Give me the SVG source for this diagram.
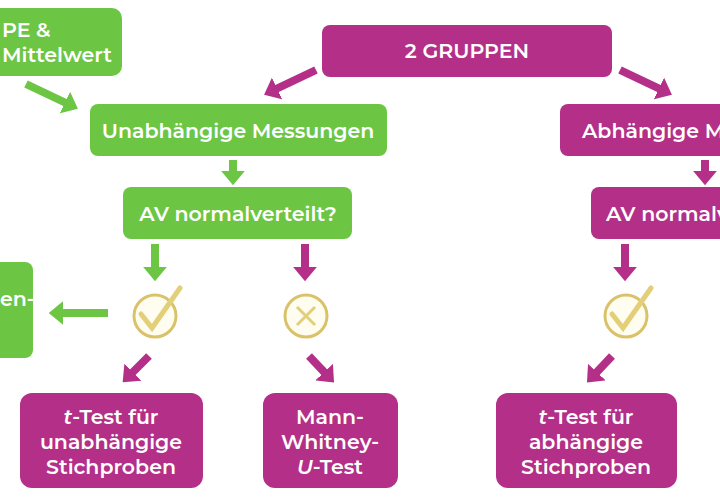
<svg xmlns="http://www.w3.org/2000/svg" width="720" height="500" viewBox="0 0 720 500">
<defs>
<style>
.g{fill:#6cc644}.m{fill:#b32f88}
text{font-family:"Montserrat","Open Sans","Liberation Sans",sans-serif;font-weight:600;font-size:20.5px;fill:#fff;text-anchor:middle}
.ag{stroke:#6cc644;stroke-width:8;fill:none}
.am{stroke:#b32f88;stroke-width:8;fill:none}
.ring{fill:#fffdf0;stroke:#d9c26a;stroke-width:3}
</style>
<marker id="hg" viewBox="0 0 6 10" refX="0.5" refY="5" markerWidth="1.8" markerHeight="3" orient="auto"><path d="M0,0L6,5L0,10z" fill="#6cc644"/></marker>
<marker id="hm" viewBox="0 0 6 10" refX="0.5" refY="5" markerWidth="1.8" markerHeight="3" orient="auto"><path d="M0,0L6,5L0,10z" fill="#b32f88"/></marker>
</defs>
<rect width="720" height="500" fill="#fff"/>
<g id="n-typ"><rect class="g" x="-12" y="8" width="134" height="68" rx="10"/><text x="2" y="37" style="text-anchor:start">PE &amp;</text><text x="2" y="62" style="text-anchor:start">Mittelwert</text></g>
<g id="n-2gruppen"><rect class="m" x="322" y="25" width="290" height="52" rx="8"/><text x="467" y="58">2 GRUPPEN</text></g>
<g id="n-unabh"><rect class="g" x="90" y="104" width="297" height="52" rx="8"/><text x="238" y="138">Unabhängige Messungen</text></g>
<g id="n-abh"><rect class="m" x="560" y="104" width="175" height="52" rx="8"/><text x="582" y="138" style="text-anchor:start">Abhängige M</text></g>
<g id="n-av1"><rect class="g" x="123" y="187" width="229" height="52" rx="8"/><text x="238" y="221">AV normalverteilt?</text></g>
<g id="n-av2"><rect class="m" x="591" y="187" width="140" height="52" rx="8"/><text x="606" y="221" style="text-anchor:start">AV normalv</text></g>
<g id="n-left"><rect class="g" x="-12" y="262" width="45" height="96" rx="8"/><text x="0" y="306" style="text-anchor:start">en-</text></g>
<g id="i-check1"><circle class="ring" cx="155" cy="316" r="21"/><path d="M141,314 L152,328 L180,288" stroke="#e3cf7a" stroke-width="5" fill="none" stroke-linecap="round"/></g>
<g id="i-x"><circle class="ring" cx="306" cy="316" r="21"/><path d="M297,307L315,325M315,307L297,325" stroke="#e3cf7a" stroke-width="3" fill="none"/></g>
<g id="i-check2"><circle class="ring" cx="626" cy="316" r="21"/><path d="M612,314 L623,328 L651,288" stroke="#e3cf7a" stroke-width="5" fill="none" stroke-linecap="round"/></g>
<g id="n-ttest1"><rect class="m" x="20" y="393" width="183" height="95" rx="12"/><text x="111" y="424"><tspan font-style="italic">t</tspan>-Test für</text><text x="111" y="449">unabhängige</text><text x="111" y="474">Stichproben</text></g>
<g id="n-mwu"><rect class="m" x="263" y="393" width="135" height="95" rx="12"/><text x="330" y="424">Mann-</text><text x="330" y="449">Whitney-</text><text x="330" y="474"><tspan font-style="italic">U</tspan>-Test</text></g>
<g id="n-ttest2"><rect class="m" x="496" y="393" width="181" height="95" rx="12"/><text x="586" y="424"><tspan font-style="italic">t</tspan>-Test für</text><text x="586" y="449">abhängige</text><text x="586" y="474">Stichproben</text></g>
<g id="connectors">
<line class="ag" x1="26" y1="84" x2="66" y2="103" marker-end="url(#hg)"/>
<line class="ag" x1="233" y1="160" x2="233" y2="172" marker-end="url(#hg)"/>
<line class="ag" x1="155" y1="244" x2="155" y2="268" marker-end="url(#hg)"/>
<line class="ag" x1="108" y1="313" x2="62" y2="313" marker-end="url(#hg)"/>
<line class="am" x1="316" y1="70" x2="276" y2="89" marker-end="url(#hm)"/>
<line class="am" x1="620" y1="70" x2="660" y2="89" marker-end="url(#hm)"/>
<line class="am" x1="705" y1="160" x2="705" y2="172" marker-end="url(#hm)"/>
<line class="am" x1="305" y1="244" x2="305" y2="268" marker-end="url(#hm)"/>
<line class="am" x1="625" y1="244" x2="625" y2="268" marker-end="url(#hm)"/>
<line class="am" x1="149" y1="356" x2="132" y2="373" marker-end="url(#hm)"/>
<line class="am" x1="309" y1="356" x2="325" y2="373" marker-end="url(#hm)"/>
<line class="am" x1="612" y1="356" x2="596" y2="373" marker-end="url(#hm)"/>
</g>
</svg>
